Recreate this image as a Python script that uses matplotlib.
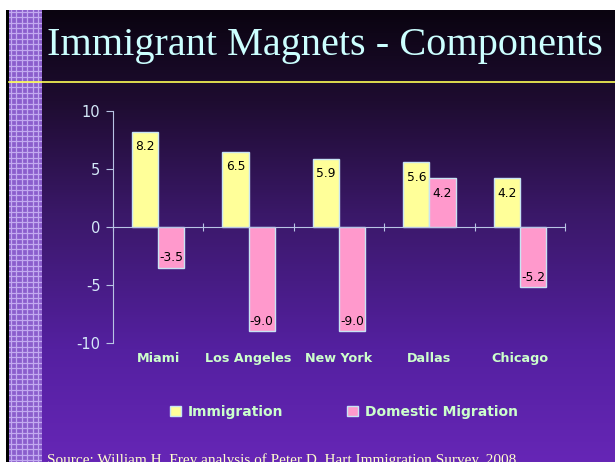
import numpy as np
import matplotlib
matplotlib.use("Agg")
from matplotlib import pyplot as plt
from matplotlib.colors import LinearSegmentedColormap
from matplotlib.patches import Rectangle, Patch

plt.rcParams["axes.unicode_minus"] = False

cities = ["Miami", "Los Angeles", "New York", "Dallas", "Chicago"]
immigration = [8.2, 6.5, 5.9, 5.6, 4.2]
domestic = [-3.5, -9.0, -9.0, 4.2, -5.2]
series_names = ["Immigration", "Domestic Migration"]
yticks = [-10, -5, 0, 5, 10]

W, H = 615, 462
fig = plt.figure(figsize=(W / 100, H / 100), dpi=100, facecolor="white")

# slide background
fig.patches.append(Rectangle((6 / W, 0), 1 - 6 / W, 1 - 10 / H, transform=fig.transFigure,
                             facecolor="black", edgecolor="none", zorder=-3))
bg = fig.add_axes([9 / W, 0, 1 - 9 / W, 1 - 10 / H], zorder=-2)
bg_cmap = LinearSegmentedColormap.from_list(
    "slide", [(0, "#0a0410"), (0.2, "#1e0c30"), (0.45, "#3a1868"), (0.75, "#5420a0"), (1, "#6626b6")])
bg.imshow(np.linspace(0, 1, 256).reshape(-1, 1), aspect="auto", cmap=bg_cmap,
          extent=[0, 1, 0, 1], origin="upper")
bg.set_axis_off()

# checkered strip on the left
strip = fig.add_axes([9 / W, 0, 33 / W, 1 - 10 / H], zorder=-1)
strip.set_facecolor("#8a5ecc")
for v in np.arange(2, 33, 5.4):
    strip.axvline(v, color="#c2aaf0", lw=0.9)
for v in np.arange(2, H, 5.4):
    strip.axhline(v, color="#c2aaf0", lw=0.9)
strip.set_xlim(0, 33)
strip.set_ylim(0, H - 10)
strip.set_xticks([])
strip.set_yticks([])
for s in strip.spines.values():
    s.set_visible(False)

# title and rule
fig.text(325 / W, 1 - 46 / H, "Immigrant Magnets - Components", ha="center", va="center",
         color="#ccffff", fontsize=29, family="Liberation Serif")
fig.add_artist(plt.Line2D([9 / W, 1], [1 - 82 / H, 1 - 82 / H], color="#ffff55", lw=1.2))

# chart
ax = fig.add_axes([113 / W, 119 / H, 452 / W, 232 / H])
ax.set_facecolor("none")
x = np.arange(len(cities))
bw = 0.29
b1 = ax.bar(x - bw / 2, immigration, bw, color="#ffff99", edgecolor="#c8e4f4", lw=1)
b2 = ax.bar(x + bw / 2, domestic, bw, color="#ff99cc", edgecolor="#c8e4f4", lw=1)
for bars, vals in [(b1, immigration), (b2, domestic)]:
    for bar, v in zip(bars, vals):
        off = -15 if v > 0 else 10
        ax.annotate(f"{v:.1f}", (bar.get_x() + bar.get_width() / 2, v), xytext=(0, off),
                    textcoords="offset pixels", ha="center", va="center", fontsize=8.8, color="black")

ax.set_xlim(-0.5, len(cities) - 0.5)
ax.set_ylim(-10, 10)
ax.set_yticks(yticks)
ax.spines["top"].set_visible(False)
ax.spines["right"].set_visible(False)
ax.spines["bottom"].set_position(("data", 0))
ax.spines["left"].set_color("#b8c4e4")
ax.spines["bottom"].set_color("#b8c4e4")
ax.set_xticks(np.arange(len(cities) + 1) - 0.5)
ax.set_xticklabels([])
ax.tick_params(axis="x", direction="inout", length=6, color="#b8c4e4")
ax.tick_params(axis="y", direction="out", length=5, color="#b8c4e4", labelcolor="#d4e8f8",
               labelsize=10.5, pad=4)
for i, c in enumerate(cities):
    ax.text(i, -11.35, c, ha="center", va="center", fontsize=9.2, fontweight="bold",
            color="#ccffcc", clip_on=False)

handles = [Patch(facecolor="#ffff99", edgecolor="#c8e4f4"), Patch(facecolor="#ff99cc", edgecolor="#c8e4f4")]
leg = fig.legend(handles, series_names, loc="center", bbox_to_anchor=(344 / W, 1 - 412 / H), ncol=2,
                 frameon=False, handlelength=0.75, handleheight=0.75, handletextpad=0.5,
                 columnspacing=4.6, prop={"size": 10, "weight": "bold"})
for t in leg.get_texts():
    t.set_color("#ccffcc")

fig.text(47 / W, -2 / H, "Source: William H. Frey analysis of Peter D. Hart Immigration Survey, 2008",
         ha="left", va="baseline", color="#ffffcc", fontsize=11, family="Liberation Serif")

fig.savefig("out.png", dpi=100)
